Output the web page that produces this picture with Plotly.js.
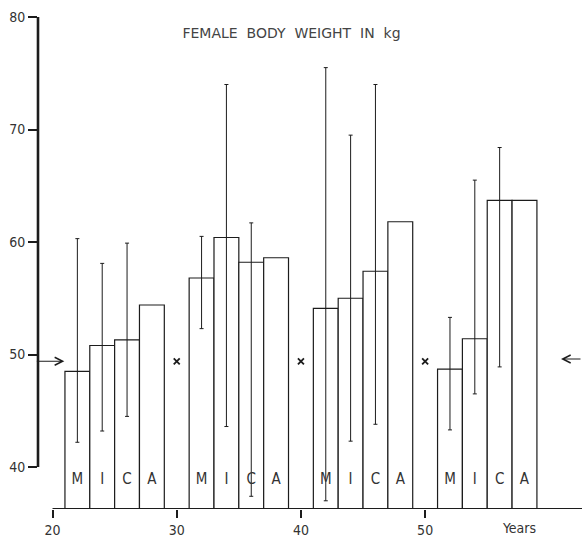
<!DOCTYPE html>
<html>
<head>
<meta charset="utf-8">
<script src="https://cdn.plot.ly/plotly-3.0.1.min.js"></script>
<style>html,body{margin:0;padding:0;background:#fff;}#chart{width:582px;height:539px;}</style>
</head>
<body>
<div id="chart"></div>
<script>
// Age positions (years) of each bar centre
const barAges = [22, 24, 26, 28, 32, 34, 36, 38, 42, 44, 46, 48, 52, 54, 56, 58];
// Category letters under the bars
const barLetters = ['M','I','C','A','M','I','C','A','M','I','C','A','M','I','C','A'];
// Female body weight (kg)
const barValues = [48.5, 50.8, 51.3, 54.4, 56.8, 60.4, 58.2, 58.6, 54.1, 55.0, 57.4, 61.8, 48.7, 51.4, 63.7, 63.7];

// Range bars (upper / lower limits)
const errAges = [22, 24, 26, 32, 34, 36, 42, 44, 46, 52, 54, 56];
const errMean = [48.5, 50.8, 51.3, 56.8, 60.4, 58.2, 54.1, 55.0, 57.4, 48.7, 51.4, 63.7];
const errHigh = [60.3, 58.1, 59.9, 60.5, 74.0, 61.7, 75.5, 69.5, 74.0, 53.3, 65.5, 68.4];
const errLow  = [42.2, 43.2, 44.5, 52.3, 43.6, 37.4, 37.0, 42.3, 43.8, 43.3, 46.5, 48.9];

// Reference level markers
const markAges = [30, 40, 50];
const markLevel = 49.4;

const xTicks = [20, 30, 40, 50];
const yTicks = [40, 50, 60, 70, 80];

const FONT = '"DejaVu Sans Condensed", "Liberation Sans Narrow", "DejaVu Sans", sans-serif';
const INK = '#1c1c1c';
const yBottom = 36.27;

const traces = [
  {
    type: 'bar',
    x: barAges,
    y: barValues,
    width: 2,
    marker: {color: '#ffffff', line: {color: INK, width: 1.2}},
    hoverinfo: 'skip'
  },
  {
    type: 'scatter',
    mode: 'markers',
    x: errAges,
    y: errMean,
    marker: {size: 1, opacity: 0},
    error_y: {
      type: 'data',
      symmetric: false,
      array: errHigh.map((h, i) => h - errMean[i]),
      arrayminus: errLow.map((l, i) => errMean[i] - l),
      color: INK,
      thickness: 1,
      width: 2
    },
    hoverinfo: 'skip'
  },
  {
    type: 'scatter',
    mode: 'text',
    x: barAges,
    y: barAges.map(() => 38.8),
    text: barLetters,
    textposition: 'middle center',
    textfont: {family: FONT, size: 15, color: '#333'},
    hoverinfo: 'skip'
  },
  {
    type: 'scatter',
    mode: 'markers',
    x: markAges,
    y: markAges.map(() => markLevel),
    marker: {symbol: 'x-thin', size: 6, line: {color: INK, width: 1.8}},
    hoverinfo: 'skip'
  }
];

const layout = {
  width: 582,
  height: 539,
  margin: {l: 38, r: 0, t: 0, b: 30},
  paper_bgcolor: '#fff',
  plot_bgcolor: '#fff',
  showlegend: false,
  bargap: 0,
  title: {
    text: 'FEMALE\u00a0\u00a0BODY\u00a0\u00a0WEIGHT\u00a0\u00a0IN\u00a0\u00a0kg',
    font: {family: '"DejaVu Sans", sans-serif', size: 14, color: '#444'},
    x: 291.5 / 582, xref: 'container', xanchor: 'center',
    y: 1 - 33.3 / 539, yref: 'container', yanchor: 'middle'
  },
  xaxis: {
    range: [18.83, 62.63],
    tickvals: xTicks,
    ticktext: xTicks.map(String),
    ticks: 'outside', ticklen: 8, tickwidth: 2, tickcolor: INK,
    showline: false, showgrid: false, zeroline: false,
    tickfont: {family: FONT, size: 14, color: '#333'}
  },
  yaxis: {
    range: [yBottom, 81.51],
    tickvals: yTicks,
    ticktext: yTicks.map(String),
    ticks: 'outside', ticklen: 9, tickwidth: 2, tickcolor: INK,
    showline: false, showgrid: false, zeroline: false,
    tickfont: {family: FONT, size: 14, color: '#333'}
  },
  shapes: [
    {type: 'line', xref: 'x', yref: 'y', x0: 20, x1: 62.63, y0: yBottom, y1: yBottom,
     line: {color: INK, width: 2.2}},
    {type: 'line', xref: 'paper', yref: 'y', x0: 0, x1: 0, y0: 40, y1: 80,
     line: {color: INK, width: 2.6}}
  ],
  annotations: [
    {x: 20.95, y: markLevel, xref: 'x', yref: 'y', text: '', showarrow: true,
     ax: -29, ay: 0, arrowhead: 5, arrowsize: 1.3, arrowwidth: 1.2, arrowcolor: INK},
    {x: 60.94, y: 49.6, xref: 'x', yref: 'y', text: '', showarrow: true,
     ax: 30, ay: 0, arrowhead: 5, arrowsize: 1.3, arrowwidth: 1.2, arrowcolor: INK},
    {x: 57.56, y: -0.0373, xref: 'x', yref: 'paper', text: 'Years', showarrow: false,
     font: {family: FONT, size: 14, color: '#333'}, xanchor: 'center', yanchor: 'middle'}
  ]
};

Plotly.newPlot('chart', traces, layout, {displayModeBar: false, staticPlot: true});
</script>
</body>
</html>
